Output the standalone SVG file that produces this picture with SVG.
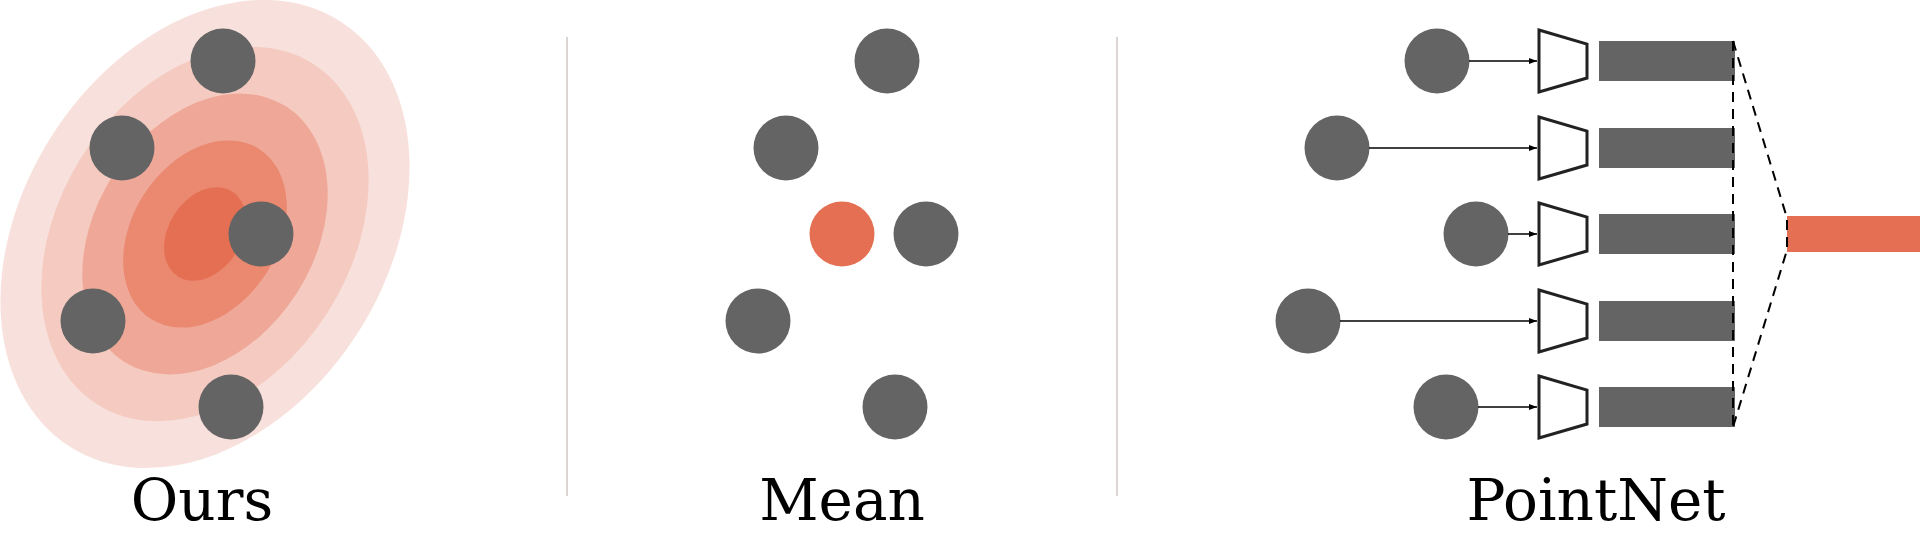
<svg xmlns="http://www.w3.org/2000/svg" width="1920" height="534" viewBox="0 0 1920 534">
<defs>
<style>
.dot{fill:#646464}
.hi{fill:#e56f52}
.lbl{font-family:"DejaVu Serif","Liberation Serif",serif;font-size:58px;fill:#000;text-anchor:middle}
.div{stroke:#dcd5d3;stroke-width:2}
.arr{stroke:#000;stroke-width:1.5;fill:none;marker-end:url(#ah)}
.trap{fill:#fff;stroke:#222;stroke-width:3;stroke-linejoin:miter}
.bar{fill:#646464}
.dash{stroke:#000;stroke-width:2;stroke-dasharray:10,7;fill:none}
</style>
<marker id="ah" viewBox="0 0 8 6" refX="8" refY="3" markerWidth="8" markerHeight="6" markerUnits="userSpaceOnUse" orient="auto">
<path d="M0,0 L8,3 L0,6 Z" fill="#000"/>
</marker>
</defs>
<rect width="1920" height="534" fill="#fff"/>

<g id="ours">
<g transform="translate(205,234) rotate(-57.6)">
<ellipse rx="252" ry="182" fill="#f8e1dc"/>
<ellipse rx="201.6" ry="145.6" fill="#f5cbc1"/>
<ellipse rx="151.2" ry="109.2" fill="#efa898"/>
<ellipse rx="100.8" ry="72.8" fill="#ea8870"/>
<ellipse rx="50.4" ry="36.4" fill="#e56f52"/>
</g>
<circle class="dot" cx="223" cy="61" r="32.5"/>
<circle class="dot" cx="122" cy="148" r="32.5"/>
<circle class="dot" cx="261" cy="234" r="32.5"/>
<circle class="dot" cx="93" cy="321" r="32.5"/>
<circle class="dot" cx="231" cy="407" r="32.5"/>
<text class="lbl" x="202" y="520">Ours</text>
</g>

<g id="dividers">
<line class="div" x1="567" y1="37" x2="567" y2="496"/>
<line class="div" x1="1117" y1="37" x2="1117" y2="496"/>
</g>

<g id="mean">
<circle class="dot" cx="887" cy="61" r="32.5"/>
<circle class="dot" cx="786" cy="148" r="32.5"/>
<circle class="hi" cx="842" cy="234" r="32.5"/>
<circle class="dot" cx="926" cy="234" r="32.5"/>
<circle class="dot" cx="758" cy="321" r="32.5"/>
<circle class="dot" cx="895" cy="407" r="32.5"/>
<text class="lbl" x="842" y="520">Mean</text>
</g>

<g id="pointnet">
<g id="pn-points">
<circle class="dot" cx="1437" cy="61" r="32.5"/>
<circle class="dot" cx="1337" cy="148" r="32.5"/>
<circle class="dot" cx="1476" cy="234" r="32.5"/>
<circle class="dot" cx="1308" cy="321" r="32.5"/>
<circle class="dot" cx="1446" cy="407" r="32.5"/>
</g>
<g id="pn-mlp">
<polygon class="trap" points="1539,30 1587,44 1587,78 1539,92"/>
<polygon class="trap" points="1539,117 1587,131 1587,165 1539,179"/>
<polygon class="trap" points="1539,203 1587,217 1587,251 1539,265"/>
<polygon class="trap" points="1539,290 1587,304 1587,338 1539,352"/>
<polygon class="trap" points="1539,376 1587,390 1587,424 1539,438"/>
</g>
<g id="pn-features">
<rect class="bar" x="1599" y="41" width="136" height="40"/>
<rect class="bar" x="1599" y="128" width="136" height="40"/>
<rect class="bar" x="1599" y="214" width="136" height="40"/>
<rect class="bar" x="1599" y="301" width="136" height="40"/>
<rect class="bar" x="1599" y="387" width="136" height="40"/>
</g>
<g id="pn-global">
<rect class="hi" x="1787" y="216" width="133" height="36"/>
</g>
<text class="lbl" x="1596" y="520">PointNet</text>
</g>

<g id="connectors">
<line class="arr" x1="1469" y1="61" x2="1537" y2="61"/>
<line class="arr" x1="1369" y1="148" x2="1537" y2="148"/>
<line class="arr" x1="1508" y1="234" x2="1537" y2="234"/>
<line class="arr" x1="1340" y1="321" x2="1537" y2="321"/>
<line class="arr" x1="1478" y1="407" x2="1537" y2="407"/>
<line class="dash" x1="1733" y1="41" x2="1733" y2="427"/>
<path class="dash" d="M1733,41 L1787,218 L1787,250 L1733,427"/>
</g>
</svg>
